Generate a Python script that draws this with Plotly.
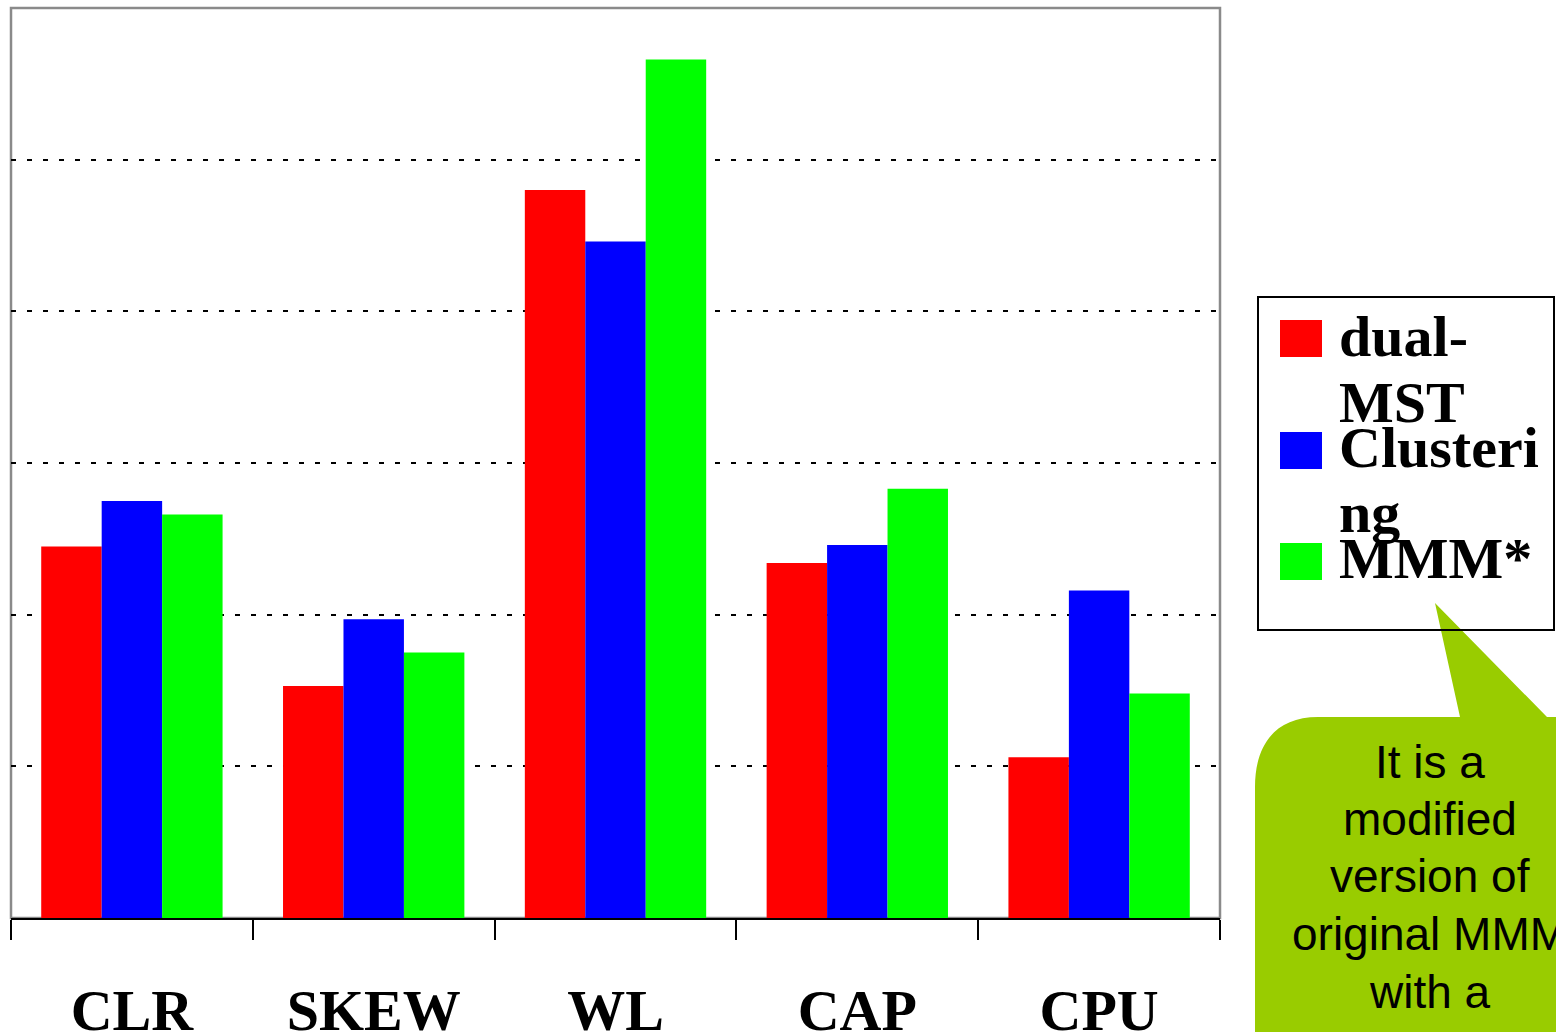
import plotly.graph_objects as go

categories = ["CLR", "SKEW", "WL", "CAP", "CPU"]
series_names = ["dual-MST", "Clustering", "MMM*"]
dual_mst = [2.45, 1.53, 4.80, 2.34, 1.06]
clustering = [2.75, 1.97, 4.46, 2.46, 2.16]
mmm_star = [2.66, 1.75, 5.66, 2.83, 1.48]
colors = ["#FF0000", "#0000FF", "#00FF00"]
legend_lines = [["dual-", "MST"], ["Clusteri", "ng"], ["MMM*"]]
callout_lines = ["It is a", "modified", "version of", "original MMM", "with a"]

W, H = 1556, 1032
L, R, T, B = 11, 1220, 8, 918  # plot area in page pixels


def PX(x):
    return (x - L) / (R - L)


def PY(y):
    return (B - y) / (B - T)


fig = go.Figure()
for name, vals, col in zip(series_names, [dual_mst, clustering, mmm_star], colors):
    fig.add_trace(go.Bar(x=categories, y=vals, name=name, marker=dict(color=col, line=dict(width=0))))

shapes = []
shapes.append(dict(type="rect", xref="paper", yref="paper", x0=0, x1=1, y0=0, y1=1,
                   line=dict(color="#8a8a8a", width=2.5), layer="below"))

pts = [
    ("M", [(1255, 1060)]),
    ("L", [(1255, 787)]),
    ("C", [(1255, 745), (1275, 717), (1318, 717)]),
    ("L", [(1460, 717)]),
    ("L", [(1435, 603)]),
    ("L", [(1547, 717)]),
    ("L", [(1620, 717)]),
    ("L", [(1620, 1060)]),
]
path = ""
for cmd, ps in pts:
    path += cmd + " " + " ".join(f"{PX(x):.5f},{PY(y):.5f}" for x, y in ps) + " "
path += "Z"
shapes.append(dict(type="path", xref="paper", yref="paper", path=path,
                   fillcolor="#99CC00", line=dict(width=0), layer="above"))

shapes.append(dict(type="rect", xref="paper", yref="paper", x0=PX(1258), x1=PX(1554),
                   y0=PY(630), y1=PY(297), line=dict(color="black", width=2),
                   fillcolor="rgba(0,0,0,0)", layer="above"))
sq_tops = [320, 432, 543]
for col, top in zip(colors, sq_tops):
    shapes.append(dict(type="rect", xref="paper", yref="paper", x0=PX(1280), x1=PX(1322),
                       y0=PY(top + 37), y1=PY(top), fillcolor=col, line=dict(width=0),
                       layer="above"))

annotations = []
leg_font = 58
baselines = [[356, 422], [467, 532], [578]]
for lines, bls in zip(legend_lines, baselines):
    for txt, bl in zip(lines, bls):
        annotations.append(dict(xref="paper", yref="paper", x=PX(1337), y=PY(bl - 0.34 * leg_font),
                                xanchor="left", yanchor="middle", showarrow=False, text=txt,
                                font=dict(family="Liberation Serif", size=leg_font, color="black", weight="bold")))

co_font = 46
co_baselines = [778, 835, 892, 950, 1008]
for txt, bl in zip(callout_lines, co_baselines):
    annotations.append(dict(xref="paper", yref="paper", x=PX(1430), y=PY(bl - 0.346 * co_font),
                            xanchor="center", yanchor="middle", showarrow=False, text=txt,
                            font=dict(family="Liberation Sans", size=co_font, color="black")))

fig.update_layout(
    width=W, height=H,
    margin=dict(l=L, r=W - R, t=T, b=H - B, pad=0),
    paper_bgcolor="white", plot_bgcolor="white",
    barmode="group", bargap=0.25, bargroupgap=0,
    showlegend=False,
    shapes=shapes, annotations=annotations,
    xaxis=dict(
        type="category", showline=True, linecolor="black", linewidth=2,
        ticks="outside", ticklen=20, tickwidth=2, tickcolor="black", tickson="boundaries",
        tickfont=dict(family="Liberation Serif", size=58, color="black", weight="bold"),
        ticklabelstandoff=40, showgrid=False, zeroline=False, automargin=False,
    ),
    yaxis=dict(
        range=[0, 6], dtick=1, showticklabels=False, ticks="", showline=False,
        showgrid=True, gridcolor="black", gridwidth=2, griddash="5px,11px",
        zeroline=False, automargin=False,
    ),
)

fig.write_html(
    "out.html",
    config={"displayModeBar": False},
    post_script="document.body.style.margin='0';document.body.style.overflow='hidden';",
)
